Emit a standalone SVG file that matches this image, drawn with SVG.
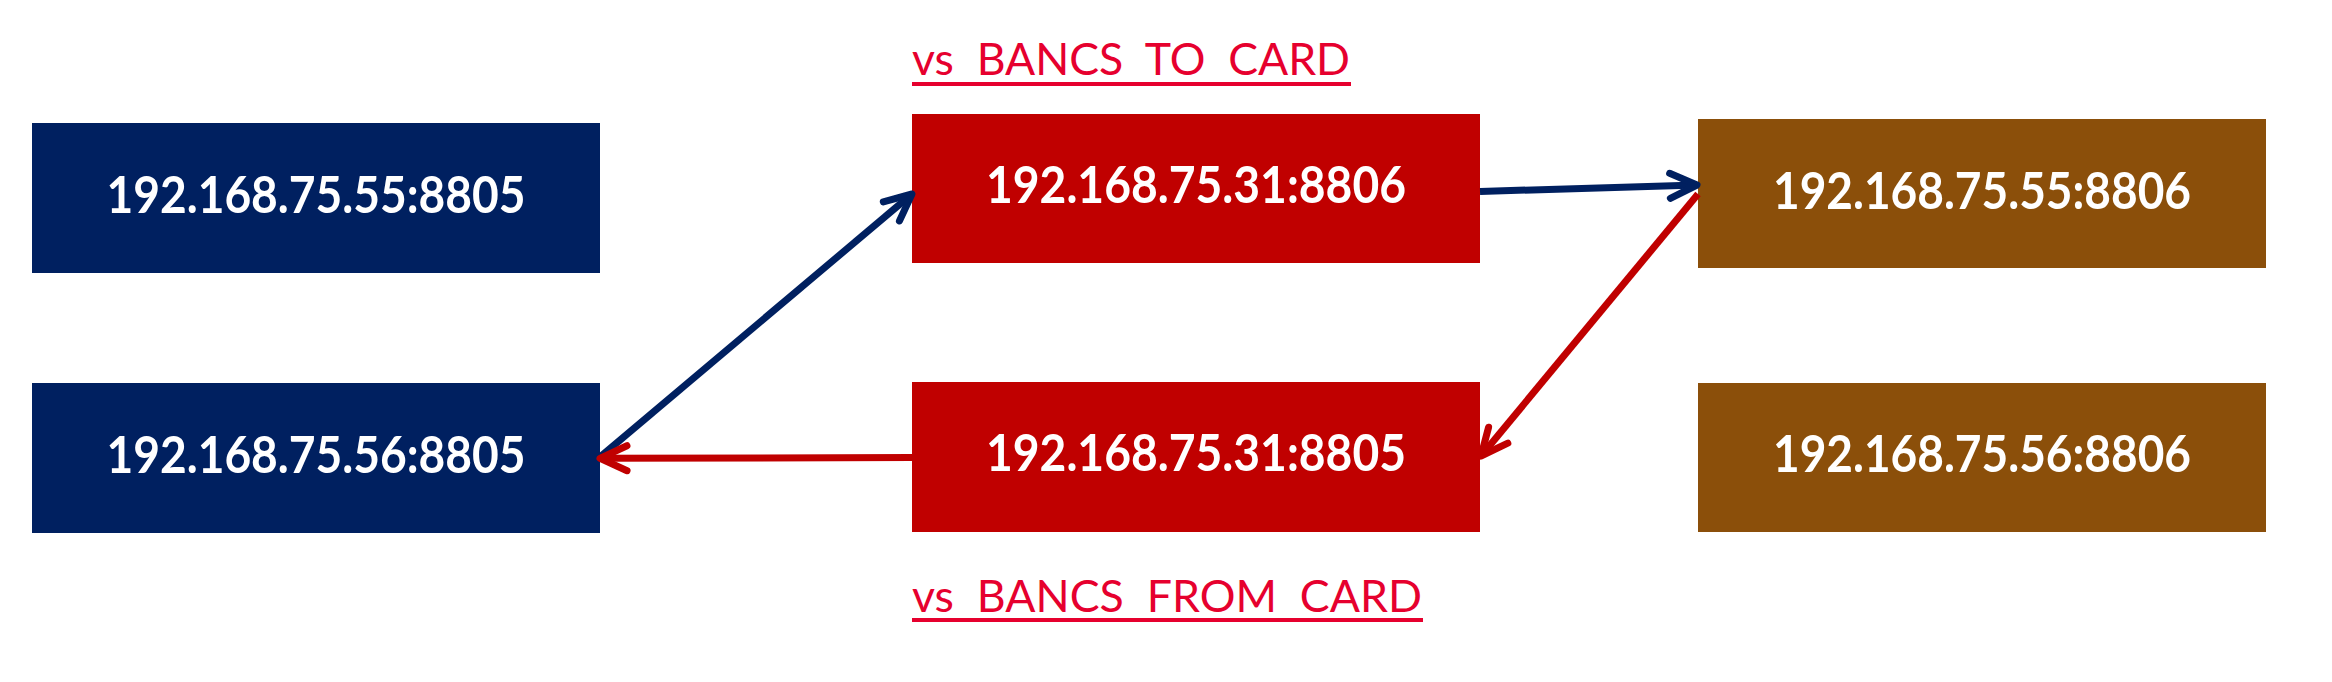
<svg xmlns="http://www.w3.org/2000/svg" width="2332" height="682" viewBox="0 0 2332 682">
<style>
.box-navy{fill:#002060}
.box-red{fill:#C00000}
.box-brown{fill:#8B4F0A}
.ip{font-family:Lato,"Open Sans","Liberation Sans",sans-serif;font-weight:700;font-size:52px;fill:#FFFFFF;text-anchor:middle}
.lbl{font-family:Lato,"Open Sans","Liberation Sans",sans-serif;font-size:45px;fill:#E6002E}
.ul{fill:#E6002E}
.c-blue{stroke:#002060;stroke-width:7;fill:none}
.c-red{stroke:#C00000;stroke-width:7;fill:none}
</style>
<defs>
<marker id="ah-blue" markerUnits="userSpaceOnUse" markerWidth="60" markerHeight="60" refX="0" refY="0" orient="auto" overflow="visible" viewBox="-40 -30 60 60">
<path d="M-27,-12.5 L0,0 L-27,12.5" fill="none" stroke="#002060" stroke-width="7" stroke-linecap="round" stroke-linejoin="round"/>
</marker>
<marker id="ah-red" markerUnits="userSpaceOnUse" markerWidth="60" markerHeight="60" refX="0" refY="0" orient="auto" overflow="visible" viewBox="-40 -30 60 60">
<path d="M-27,-12.5 L0,0 L-27,12.5" fill="none" stroke="#C00000" stroke-width="7" stroke-linecap="round" stroke-linejoin="round"/>
</marker>
</defs>
<rect width="2332" height="682" fill="#FFFFFF"/>

<g id="label-to-card">
<text class="lbl" x="912" y="75" xml:space="preserve" textLength="438" lengthAdjust="spacingAndGlyphs">vs  BANCS  TO  CARD</text>
<rect class="ul" x="912" y="82" width="439" height="4"/>
</g>
<g id="label-from-card">
<text class="lbl" x="912" y="612" xml:space="preserve" textLength="510" lengthAdjust="spacingAndGlyphs">vs  BANCS  FROM  CARD</text>
<rect class="ul" x="912" y="618" width="511" height="4"/>
</g>

<g id="node-55-8805">
<rect class="box-navy" x="32" y="123" width="568" height="150"/>
<text class="ip" x="316" y="213" textLength="419" lengthAdjust="spacingAndGlyphs">192.168.75.55:8805</text>
</g>
<g id="node-56-8805">
<rect class="box-navy" x="32" y="383" width="568" height="150"/>
<text class="ip" x="316" y="473" textLength="419" lengthAdjust="spacingAndGlyphs">192.168.75.56:8805</text>
</g>
<g id="node-31-8806">
<rect class="box-red" x="912" y="114" width="568" height="149"/>
<text class="ip" x="1196" y="203" textLength="420" lengthAdjust="spacingAndGlyphs">192.168.75.31:8806</text>
</g>
<g id="node-31-8805">
<rect class="box-red" x="912" y="382" width="568" height="150"/>
<text class="ip" x="1196" y="471" textLength="420" lengthAdjust="spacingAndGlyphs">192.168.75.31:8805</text>
</g>
<g id="node-55-8806">
<rect class="box-brown" x="1698" y="119" width="568" height="149"/>
<text class="ip" x="1982" y="209" textLength="418" lengthAdjust="spacingAndGlyphs">192.168.75.55:8806</text>
</g>
<g id="node-56-8806">
<rect class="box-brown" x="1698" y="383" width="568" height="149"/>
<text class="ip" x="1982" y="472" textLength="418" lengthAdjust="spacingAndGlyphs">192.168.75.56:8806</text>
</g>

<g id="connectors">
<path class="c-blue" d="M600,457 L912,194" marker-end="url(#ah-blue)"/>
<path class="c-blue" d="M1480,191.5 L1697,185" marker-end="url(#ah-blue)"/>
<path class="c-red" d="M1698,194 L1481,456" marker-end="url(#ah-red)"/>
<path class="c-red" d="M912,457.5 L600,458.3" marker-end="url(#ah-red)"/>
</g>
</svg>
